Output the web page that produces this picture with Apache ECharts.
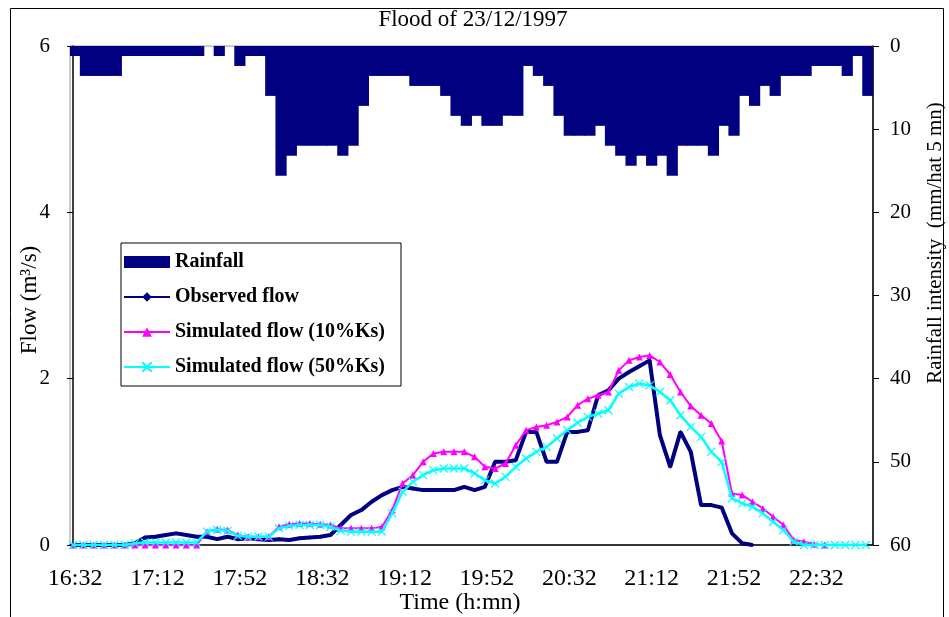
<!DOCTYPE html>
<html>
<head>
<meta charset="utf-8">
<script src="https://cdn.jsdelivr.net/npm/echarts@6/dist/echarts.min.js"></script>
<style>
  html, body { margin: 0; padding: 0; background: #fff; }
  #chart { width: 949px; height: 617px; }
</style>
</head>
<body>
<div id="chart"></div>
<script>
// 5-minute time steps (bottom category axis)
const times = [
  '16:32','16:37','16:42','16:47','16:52','16:57',
  '17:02','17:07','17:12','17:17','17:22','17:27','17:32','17:37','17:42','17:47','17:52','17:57',
  '18:02','18:07','18:12','18:17','18:22','18:27','18:32','18:37','18:42','18:47','18:52','18:57',
  '19:02','19:07','19:12','19:17','19:22','19:27','19:32','19:37','19:42','19:47','19:52','19:57',
  '20:02','20:07','20:12','20:17','20:22','20:27','20:32','20:37','20:42','20:47','20:52','20:57',
  '21:02','21:07','21:12','21:17','21:22','21:27','21:32','21:37','21:42','21:47','21:52','21:57',
  '22:02','22:07','22:12','22:17','22:22','22:27','22:32','22:37','22:42','22:47','22:52','22:57'
];

// rainfall intensity (mm/h at 5 mn), hanging from the top
const rainfall = [
  1.2, 3.6, 3.6, 3.6, 3.6, 1.2, 1.2, 1.2, 1.2, 1.2, 1.2, 1.2, 1.2, 0, 1.2, 0,
  2.4, 1.2, 1.2, 6.0, 15.6, 13.2, 12.0, 12.0, 12.0, 12.0, 13.2, 12.0, 7.2,
  3.6, 3.6, 3.6, 3.6, 4.8, 4.8, 4.8, 6.0, 8.4, 9.6, 8.4, 9.6, 9.6, 8.4, 8.4,
  2.4, 3.6, 4.8, 8.4, 10.8, 10.8, 10.8, 9.6, 12.0, 13.2, 14.4, 13.2, 14.4, 13.2,
  15.6, 12.0, 12.0, 12.0, 13.2, 9.6, 10.8, 6.0, 7.2, 4.8, 6.0, 3.6, 3.6, 3.6,
  2.4, 2.4, 2.4, 3.6, 1.2, 6.0
];

// flows (m3/s)
const observed = [
  0, 0, 0, 0, 0, 0,
  0.02, 0.09, 0.1, 0.12, 0.14, 0.12, 0.1, 0.1, 0.07, 0.1, 0.07, 0.08, 0.07, 0.06,
  0.07, 0.06, 0.08, 0.09, 0.1, 0.12,
  0.24, 0.36, 0.42, 0.52, 0.6, 0.66, 0.7, 0.68, 0.66, 0.66, 0.66, 0.66, 0.7, 0.66, 0.7,
  1.0, 1.0, 1.02, 1.36, 1.36, 1.0, 1.0, 1.36, 1.36, 1.38, 1.8, 1.86, 2.0, 2.08, 2.15,
  2.22, 1.32, 0.94, 1.36, 1.12, 0.48, 0.48, 0.45, 0.14, 0.02, 0
];

const sim10 = [
  0, 0, 0, 0, 0, 0, 0, 0, 0, 0, 0, 0, 0,
  0.16, 0.19, 0.18, 0.12, 0.1, 0.1, 0.1, 0.22, 0.25, 0.26, 0.26, 0.25, 0.24,
  0.2, 0.2, 0.2, 0.2, 0.22, 0.42, 0.74, 0.84, 1.0, 1.1, 1.12, 1.12, 1.12, 1.06,
  0.94, 0.92, 0.98, 1.2, 1.38, 1.42, 1.44, 1.48, 1.54, 1.68, 1.76, 1.8, 1.84,
  2.1, 2.22, 2.26, 2.28, 2.2, 2.05, 1.84, 1.67, 1.56, 1.46, 1.25, 0.62, 0.6,
  0.52, 0.44, 0.34, 0.24, 0.06, 0.04, 0.01, 0
];

const sim50 = [
  0, 0, 0, 0, 0, 0, 0.02, 0.03, 0.03, 0.03, 0.03, 0.03, 0.03,
  0.16, 0.18, 0.17, 0.11, 0.1, 0.1, 0.1, 0.2, 0.23, 0.24, 0.24, 0.24, 0.22,
  0.17, 0.16, 0.16, 0.16, 0.16, 0.38, 0.64, 0.76, 0.84, 0.9, 0.92, 0.92, 0.92,
  0.86, 0.78, 0.74, 0.82, 0.94, 1.04, 1.12, 1.18, 1.28, 1.38, 1.47, 1.54, 1.58,
  1.62, 1.82, 1.9, 1.94, 1.92, 1.84, 1.74, 1.56, 1.42, 1.3, 1.12, 1.0, 0.56,
  0.5, 0.46, 0.38, 0.28, 0.18, 0.04, 0, 0, 0, 0, 0, 0, 0
];

const FONT = 'Liberation Serif';
const NAVY = '#000080';

// lines run on a hidden index axis, bars on the category axis
const pairs = arr => arr.map((v, i) => [i, v]);

const chart = echarts.init(document.getElementById('chart'), null, { renderer: 'canvas' });

const centred = { align: 'center', verticalAlign: 'middle', textAlign: 'center', textVerticalAlign: 'middle', fill: '#000' };

chart.setOption({
  animation: false,
  backgroundColor: '#fff',
  grid: { left: 70, right: 76, top: 46, bottom: 72, show: true, borderColor: '#999', borderWidth: 1 },
  legend: {
    left: 121, top: 243,
    orient: 'vertical',
    backgroundColor: '#fff',
    borderColor: '#000', borderWidth: 1,
    padding: [9, 16, 9, 2],
    itemWidth: 46, itemHeight: 12, itemGap: 15,
    textStyle: { fontFamily: FONT, fontSize: 20, fontWeight: 'bold', color: '#000' },
    data: [
      { name: 'Rainfall', icon: 'rect' },
      { name: 'Observed flow' },
      { name: 'Simulated flow (10%Ks)' },
      { name: 'Simulated flow (50%Ks)' }
    ]
  },
  xAxis: [
    {
      type: 'category',
      data: times,
      boundaryGap: true,
      position: 'bottom',
      axisLine: { lineStyle: { color: '#000', width: 1.5 } },
      axisTick: { interval: 5, length: 5, lineStyle: { color: '#000' } },
      axisLabel: { interval: 7, margin: 22, fontFamily: FONT, fontSize: 24, color: '#000' },
      splitLine: { show: false }
    },
    {
      type: 'value',
      min: -0.3, max: 77.7,
      show: false
    }
  ],
  yAxis: [
    {
      type: 'value',
      min: 0, max: 6, interval: 2,
      position: 'left',
      axisLine: { show: true, lineStyle: { color: '#000', width: 1.5 } },
      axisTick: { show: true, inside: false, length: 6, lineStyle: { color: '#000' } },
      axisLabel: { margin: 20, fontFamily: FONT, fontSize: 21, color: '#000' },
      splitLine: { show: false }
    },
    {
      type: 'value',
      min: 0, max: 60, interval: 10,
      inverse: true,
      position: 'right',
      axisLine: { show: true, lineStyle: { color: '#000', width: 1.5 } },
      axisTick: { show: true, inside: false, length: 6, lineStyle: { color: '#000' } },
      axisLabel: { margin: 17, fontFamily: FONT, fontSize: 21, color: '#000' },
      splitLine: { show: false }
    }
  ],
  series: [
    {
      name: 'Rainfall',
      type: 'bar',
      xAxisIndex: 0, yAxisIndex: 1,
      data: rainfall,
      barWidth: 11.2,
      itemStyle: { color: NAVY },
      z: 1
    },
    {
      name: 'Observed flow',
      type: 'line',
      xAxisIndex: 1, yAxisIndex: 0,
      data: pairs(observed),
      symbol: 'diamond', symbolSize: 4, showAllSymbol: true,
      itemStyle: { color: NAVY },
      lineStyle: { color: NAVY, width: 4 },
      z: 3
    },
    {
      name: 'Simulated flow (10%Ks)',
      type: 'line',
      xAxisIndex: 1, yAxisIndex: 0,
      data: pairs(sim10),
      symbol: 'triangle', symbolSize: 7, showAllSymbol: true,
      itemStyle: { color: '#FF00FF' },
      lineStyle: { color: '#FF00FF', width: 2 },
      z: 4
    },
    {
      name: 'Simulated flow (50%Ks)',
      type: 'line',
      xAxisIndex: 1, yAxisIndex: 0,
      data: pairs(sim50),
      symbol: 'path://M0,0L10,10M10,0L0,10', symbolSize: 8, showAllSymbol: true,
      itemStyle: { color: '#00FFFF', borderColor: '#00FFFF', borderWidth: 1.2 },
      lineStyle: { color: '#00FFFF', width: 2.5 },
      z: 5
    }
  ],
  graphic: [
    {
      type: 'rect', silent: true, z: -10,
      shape: { x: 10.5, y: 8.5, width: 933, height: 650 },
      style: { fill: 'none', stroke: '#000', lineWidth: 1 }
    },
    {
      type: 'text', x: 473, y: 20,
      style: Object.assign({ text: 'Flood of 23/12/1997', font: '23px "Liberation Serif"' }, centred)
    },
    {
      type: 'text', x: 30, y: 300, rotation: Math.PI / 2,
      style: Object.assign({ text: 'Flow (m³/s)', font: '23px "Liberation Serif"' }, centred)
    },
    {
      type: 'text', x: 935, y: 243, rotation: Math.PI / 2,
      style: Object.assign({ text: 'Rainfall intensity  (mm/hat 5 mn)', font: '21px "Liberation Serif"' }, centred)
    },
    {
      type: 'text', x: 460, y: 603,
      style: Object.assign({ text: 'Time (h:mn)', font: '24px "Liberation Serif"' }, centred)
    }
  ]
});
</script>
</body>
</html>
